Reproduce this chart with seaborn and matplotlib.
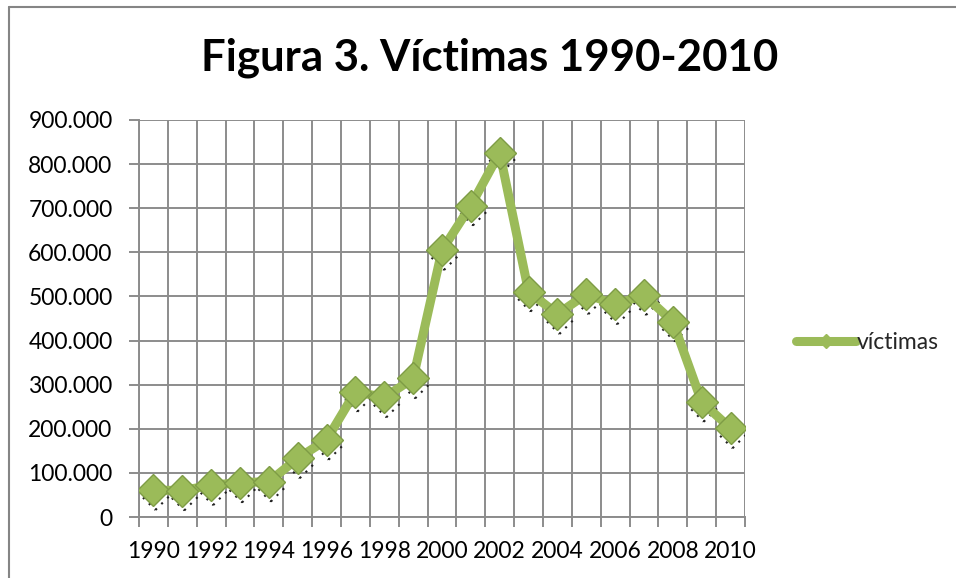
"""Figura 3: víctimas 1990-2010, line chart with diamond markers."""

import matplotlib.pyplot as plt
import matplotlib.transforms as mtransforms
import pandas as pd
import seaborn as sns
from matplotlib.lines import Line2D
from matplotlib.ticker import FuncFormatter, MultipleLocator

# Data
years = list(range(1990, 2011))
victimas = [
    61000, 60000, 72000, 78000, 80000, 133000, 175000, 284000, 271000, 314000,
    605000, 706000, 826000, 511000, 460000, 505000, 482000, 503000, 443000,
    261000, 201000,
]
x_labels = [str(y) if y % 2 == 0 else "" for y in years]

df = pd.DataFrame({"pos": range(len(years)), "victimas": victimas})

green = "#9BBB59"
edge_green = "#7E9C45"
grid_gray = "#8C8C8C"

sns.set_style("white")
plt.rcParams["font.family"] = ["Lato", "DejaVu Sans"]

fig = plt.figure(figsize=(9.56, 5.78), dpi=100)
ax = fig.add_axes([139 / 956, 1 - 517 / 578, (745 - 139) / 956, (517 - 120) / 578])

# dotted shadow under the markers
shadow = mtransforms.offset_copy(ax.transData, fig=fig, x=2, y=-5, units="dots")
ax.scatter(
    df["pos"], df["victimas"], marker="D", s=230, facecolors="none",
    edgecolors="#222222", linewidths=1.5, linestyle=(0, (1, 3)),
    transform=shadow, zorder=2,
)

sns.lineplot(
    data=df, x="pos", y="victimas", ax=ax, color=green, linewidth=6.5,
    marker="D", markersize=16, markerfacecolor=green,
    markeredgecolor=edge_green, markeredgewidth=1, zorder=3,
)

# axes and grid
ax.set_xlim(-0.5, len(years) - 0.5)
ax.set_ylim(0, 900000)
ax.yaxis.set_major_locator(MultipleLocator(100000))
ax.yaxis.set_major_formatter(
    FuncFormatter(lambda v, _: f"{int(v):,}".replace(",", "."))
)
ax.set_xticks(range(len(years)))
ax.set_xticklabels(x_labels)
ax.set_xticks([i - 0.5 for i in range(len(years) + 1)], minor=True)

ax.grid(axis="y", which="major", color=grid_gray, linewidth=1.4)
ax.grid(axis="x", which="minor", color=grid_gray, linewidth=1.4)
ax.set_axisbelow(True)

for side in ["top", "right"]:
    ax.spines[side].set_visible(False)
for side in ["left", "bottom"]:
    ax.spines[side].set_color(grid_gray)
    ax.spines[side].set_linewidth(1.4)

ax.tick_params(axis="y", which="major", left=True, length=7, width=1.4,
               color=grid_gray, labelsize=16.5, pad=12, labelcolor="black")
ax.tick_params(axis="x", which="major", bottom=False, labelsize=16.5, pad=14,
               labelcolor="black")
ax.tick_params(axis="x", which="minor", bottom=True, length=7, width=1.4,
               color=grid_gray)
ax.set_xlabel("")
ax.set_ylabel("")

# title
fig.text(490 / 956, 1 - 58 / 578, "Figura 3. Víctimas 1990-2010",
         ha="center", va="center", fontsize=31.5, fontweight="bold",
         color="black")

# legend
ax.legend(
    handles=[Line2D([], [], color=green, linewidth=6.5, marker="D",
                    markersize=7, markerfacecolor=green,
                    markeredgecolor=green)],
    labels=["víctimas"], loc="center left", bbox_to_anchor=(1.05, 0.44),
    frameon=False, fontsize=16.5, handlelength=2.6, handletextpad=0.05,
)

# outer chart border (top and left)
fig.add_artist(Line2D([9 / 956, 9 / 956], [0, 1 - 7 / 578],
                      transform=fig.transFigure, color="#858585", linewidth=1.5))
fig.add_artist(Line2D([9 / 956, 1], [1 - 7 / 578, 1 - 7 / 578],
                      transform=fig.transFigure, color="#858585", linewidth=1.5))

fig.savefig("out.png", dpi=100)
